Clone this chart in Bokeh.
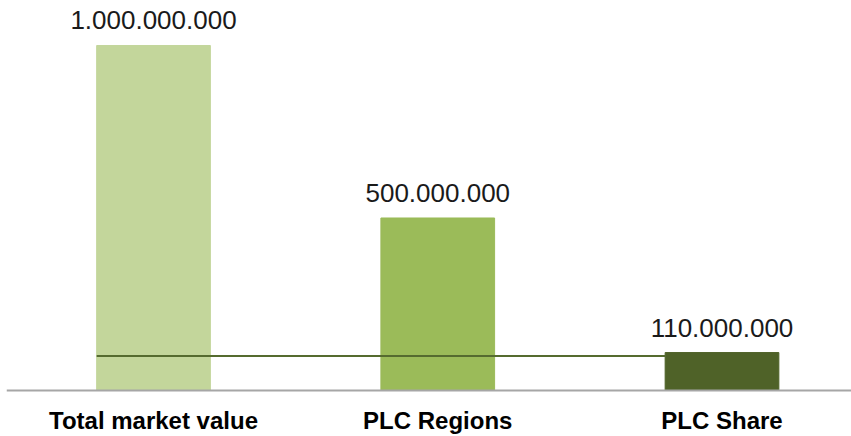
from bokeh.plotting import figure
from bokeh.models import ColumnDataSource, Range1d, Span
from bokeh.core.properties import value
from bokeh.embed import file_html
from bokeh.resources import INLINE

# Market sizing data
categories = ["Total market value", "PLC Regions", "PLC Share"]
amounts = [1_000_000_000, 500_000_000, 110_000_000]
value_labels = ["1.000.000.000", "500.000.000", "110.000.000"]
bar_colors = ["#c3d69b", "#9bbb59", "#4f6228"]
reference_level = 100_000_000

positions = list(range(len(categories)))
bar_width = 0.40

source = ColumnDataSource(data=dict(
    x=positions,
    top=amounts,
    label=value_labels,
    cat=categories,
    base=[0] * len(categories),
    color=bar_colors,
))

p = figure(
    width=851, height=436,
    output_backend="svg", toolbar_location=None,
    x_range=Range1d(-0.5172, 2.4556),
    y_range=Range1d(-0.13333e9, 1.13043e9),
    min_border_left=6, min_border_right=0,
    min_border_top=0, min_border_bottom=0,
)
p.axis.visible = False

p.vbar(x="x", top="top", bottom=0, width=bar_width, color="color", source=source)

# Baseline along the bottom of the bars
p.add_layout(Span(location=0, dimension="width",
                  line_color="#a6a6a6", line_width=2))

# Horizontal reference line running from the first bar to the last bar
p.segment(x0=positions[0] - bar_width / 2, x1=positions[-1] - bar_width / 2,
          y0=reference_level, y1=reference_level,
          line_color="#556b2f", line_width=2)

# Value labels above the bars
p.text(x="x", y="top", text="label", source=source,
       y_offset=-25, text_align="center", text_baseline="alphabetic",
       text_font=value("Liberation Sans"), text_font_size="26px",
       text_color="#1a1a1a")

# Category labels below the baseline
p.text(x="x", y="base", text="cat", source=source,
       y_offset=30, text_align="center", text_baseline="alphabetic",
       text_font=value("Liberation Sans"), text_font_style="bold",
       text_font_size="24px", text_color="#000000")

p.xgrid.grid_line_color = None
p.ygrid.grid_line_color = None
p.outline_line_color = None
p.background_fill_color = "white"
p.border_fill_color = "white"

open("out.html", "w").write(file_html(p, INLINE))
